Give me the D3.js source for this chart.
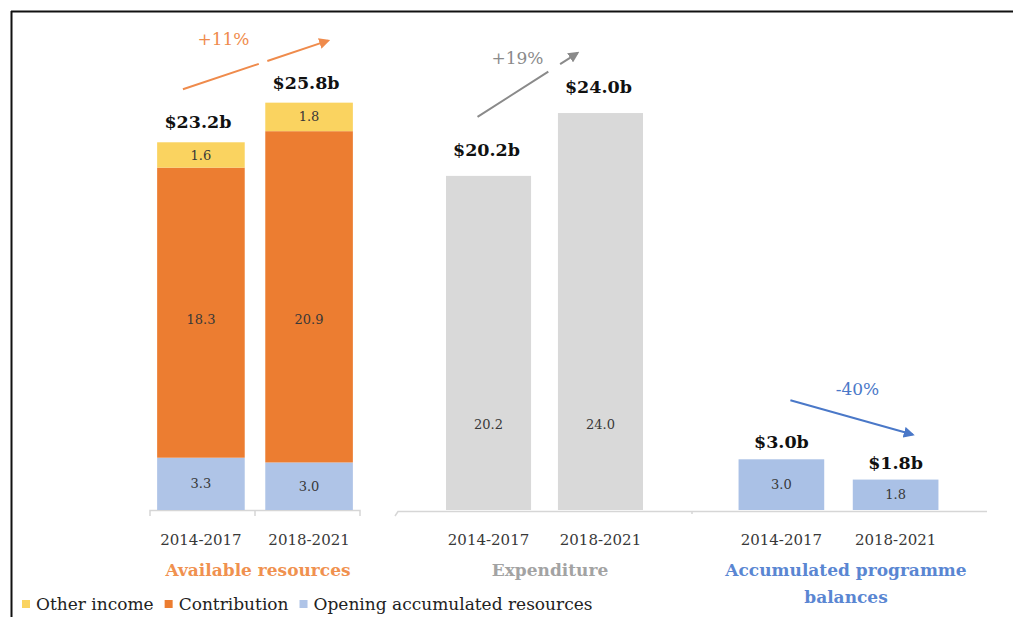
<!DOCTYPE html>
<html><head><meta charset="utf-8">
<script src="https://cdn.jsdelivr.net/npm/d3@7"></script>
<style>body{margin:0;background:#fff} svg{display:block}</style>
</head><body>
<script>
// ---- data ----
const periods = ["2014-2017", "2018-2021"];
const openingResources = [3.3, 3.0];
const contributions = [18.3, 20.9];
const otherIncome = [1.6, 1.8];
const resourceTotals = ["$23.2b", "$25.8b"];
const expenditure = [20.2, 24.0];
const expenditureTotals = ["$20.2b", "$24.0b"];
const programmeBalances = [3.0, 1.8];
const balanceTotals = ["$3.0b", "$1.8b"];
const changeLabels = ["+11%", "+19%", "-40%"];
const panelTitles = [["Available resources"], ["Expenditure"], ["Accumulated programme", "balances"]];
const legendLabels = ["Other income", "Contribution", "Opening accumulated resources"];

// ---- layout / style ----
const W = 1013, H = 617, base = 510;
const FONT = "'DejaVu Serif', serif";
const C = {other: "#FAD360", contrib: "#EC7D31", open: "#AFC4E7", exp: "#D9D9D9", bal: "#AAC1E6",
  axis: "#D6D6D6", text: "#383838", orange: "#EF8B4C", gray: "#8A8A8A", blue: "#4A78C8",
  titleOrange: "#F0914F", titleGray: "#A3A3A3", titleBlue: "#5A86D2"};

const svg = d3.select("body").append("svg").attr("width", W).attr("height", H);

// frame
svg.append("line").attr("x1", 11).attr("x2", W).attr("y1", 11.5).attr("y2", 11.5).attr("stroke", "#111").attr("stroke-width", 2);
svg.append("line").attr("x1", 11.5).attr("x2", 11.5).attr("y1", 11).attr("y2", H).attr("stroke", "#111").attr("stroke-width", 2);

const defs = svg.append("defs");
function marker(id, col) {
  defs.append("marker").attr("id", id).attr("viewBox", "0 0 10 10").attr("refX", 8).attr("refY", 5)
    .attr("markerWidth", 11).attr("markerHeight", 11).attr("markerUnits", "userSpaceOnUse").attr("orient", "auto")
    .append("path").attr("d", "M0,0L10,5L0,10z").attr("fill", col);
}
marker("mo", C.orange); marker("mg", C.gray); marker("mb", C.blue);

const panels = [
  {range: [150, 360], pi: 0.19, po: 0.066, k: 15.85, totalOff: -14},
  {range: [418, 671], pi: 0.24, po: 0.25, k: 16.54, totalOff: -20},
  {range: [710, 967], pi: 0.25, po: 0.25, k: 16.9, totalOff: -11}
];
panels.forEach(p => {
  p.x = d3.scaleBand().domain(periods).range(p.range).paddingInner(p.pi).paddingOuter(p.po);
  p.y = d3.scaleLinear().domain([0, 30]).range([base, base - 30 * p.k]);
});

// ---- axis lines ----
const ax = svg.append("g").attr("stroke", C.axis).attr("stroke-width", 1.5).attr("fill", "none");
{
  const p = panels[0];
  const mid = p.x(periods[1]) - p.x.step() * p.pi / 2;
  ax.append("path").attr("d", `M${p.range[0]},${base + 6}V${base + 0.5}H${p.range[1]}V${base + 6}M${mid},${base + 0.5}V${base + 6}`);
  ax.append("path").attr("d", `M395,${base + 6}L398,${base + 1.5}H987M692,${base + 1.5}V${base + 4}`);
}

// tick labels
panels.forEach(p => {
  const g = svg.append("g").attr("transform", `translate(0,${base + 24})`)
    .call(d3.axisBottom(p.x).tickSize(0).tickPadding(0));
  g.select(".domain").remove();
  g.selectAll("text").attr("font-family", FONT).attr("font-size", 15).attr("fill", C.text);
});

function inLabel(x, y, txt) {
  svg.append("text").attr("x", x).attr("y", y).attr("dy", "0.35em").attr("text-anchor", "middle")
    .attr("font-family", FONT).attr("font-size", 13).attr("fill", C.text).text(txt);
}
function totalLabel(x, y, txt) {
  svg.append("text").attr("x", x).attr("y", y).attr("text-anchor", "middle")
    .attr("font-family", FONT).attr("font-weight", "bold").attr("font-size", 17.5).attr("fill", "#111").text(txt);
}

// ---- panel 1: stacked ----
{
  const p = panels[0];
  const rows = periods.map((d, i) => ({period: d, open: openingResources[i], contrib: contributions[i], other: otherIncome[i]}));
  const keys = ["open", "contrib", "other"];
  const stack = d3.stack().keys(keys)(rows);
  const col = {open: C.open, contrib: C.contrib, other: C.other};
  stack.forEach(layer => {
    svg.append("g").attr("fill", col[layer.key]).selectAll("rect").data(layer).join("rect")
      .attr("x", d => p.x(d.data.period)).attr("width", p.x.bandwidth())
      .attr("y", d => p.y(d[1])).attr("height", d => p.y(d[0]) - p.y(d[1]));
    layer.forEach(d => {
      const cx = p.x(d.data.period) + p.x.bandwidth() / 2;
      const level = layer.key === "contrib" ? 12.05 : (d[0] + d[1]) / 2;
      inLabel(cx, p.y(level), d3.format(".1f")(d.data[layer.key]));
    });
  });
  const top = stack[2];
  top.forEach((d, i) => totalLabel(p.x(periods[i]) + p.x.bandwidth() / 2 - 3, p.y(d[1]) + p.totalOff, resourceTotals[i]));
}

// ---- panel 2: expenditure ----
{
  const p = panels[1];
  svg.append("g").attr("fill", C.exp).selectAll("rect").data(expenditure).join("rect")
    .attr("x", (d, i) => p.x(periods[i])).attr("width", p.x.bandwidth())
    .attr("y", d => p.y(d)).attr("height", d => base - p.y(d));
  expenditure.forEach((d, i) => {
    const cx = p.x(periods[i]) + p.x.bandwidth() / 2;
    inLabel(cx, p.y(5.2), d3.format(".1f")(d));
    totalLabel(cx - 2, p.y(d) + p.totalOff, expenditureTotals[i]);
  });
}

// ---- panel 3: balances ----
{
  const p = panels[2];
  svg.append("g").attr("fill", C.bal).selectAll("rect").data(programmeBalances).join("rect")
    .attr("x", (d, i) => p.x(periods[i])).attr("width", p.x.bandwidth())
    .attr("y", d => p.y(d)).attr("height", d => base - p.y(d));
  programmeBalances.forEach((d, i) => {
    const cx = p.x(periods[i]) + p.x.bandwidth() / 2;
    inLabel(cx, p.y(d / 2), d3.format(".1f")(d));
    totalLabel(cx, p.y(d) + p.totalOff, balanceTotals[i]);
  });
}

// ---- change arrows ----
const tops = [
  [openingResources[0] + contributions[0] + otherIncome[0], openingResources[1] + contributions[1] + otherIncome[1]],
  expenditure, programmeBalances
];
const arrows = [
  {s: [-18, -53], e: [19, -62], lab: [-32, -26], col: C.orange, m: "mo", dash: "80 9 300"},
  {s: [-11, -59], e: [-23, -60], lab: [-10, -27], col: C.gray, m: "mg", dash: "84 14 300"},
  {s: [9, -59], e: [17, -45], lab: [6, -28], col: C.blue, m: "mb", dash: null}
];
arrows.forEach((a, i) => {
  const p = panels[i];
  const cx1 = p.x(periods[0]) + p.x.bandwidth() / 2, cx2 = p.x(periods[1]) + p.x.bandwidth() / 2;
  const x1 = cx1 + a.s[0], y1 = p.y(tops[i][0]) + a.s[1];
  const x2 = cx2 + a.e[0], y2 = p.y(tops[i][1]) + a.e[1];
  const ln = svg.append("line").attr("x1", x1).attr("y1", y1).attr("x2", x2).attr("y2", y2)
    .attr("stroke", a.col).attr("stroke-width", 2).attr("marker-end", `url(#${a.m})`);
  if (a.dash) ln.attr("stroke-dasharray", a.dash);
  svg.append("text").attr("x", (x1 + x2) / 2 + a.lab[0]).attr("y", (y1 + y2) / 2 + a.lab[1]).attr("dy", "0.35em")
    .attr("text-anchor", "middle").attr("font-family", FONT).attr("font-size", 17).attr("fill", a.col).text(changeLabels[i]);
});

// ---- panel titles ----
const titleCols = [C.titleOrange, C.titleGray, C.titleBlue];
const titleX = [258, 550, 846];
panelTitles.forEach((lines, i) => {
  lines.forEach((t, j) => {
    svg.append("text").attr("x", titleX[i]).attr("y", 570 + j * 27).attr("dy", "0.35em").attr("text-anchor", "middle")
      .attr("font-family", FONT).attr("font-weight", "bold").attr("font-size", 17).attr("fill", titleCols[i]).text(t);
  });
});

// ---- legend ----
const legCols = [C.other, C.contrib, C.open];
let lx = 22;
legendLabels.forEach((t, i) => {
  svg.append("rect").attr("x", lx).attr("y", 600).attr("width", 8).attr("height", 8).attr("fill", legCols[i]);
  const tx = svg.append("text").attr("x", lx + 14).attr("y", 604).attr("dy", "0.35em")
    .attr("font-family", FONT).attr("font-size", 17).attr("fill", "#222").text(t);
  lx += 14 + tx.node().getComputedTextLength() + 11;
});
</script>
</body></html>
